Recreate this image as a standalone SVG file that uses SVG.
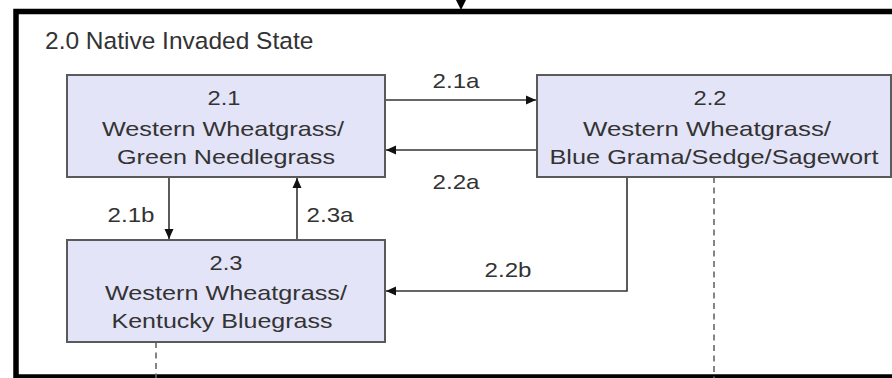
<svg xmlns="http://www.w3.org/2000/svg" width="892" height="378" viewBox="0 0 892 378">
<style>
.box{fill:#e4e4f8;stroke:#5a5a5a;stroke-width:2}
.t{font-family:"Liberation Sans",Arial,sans-serif;font-size:21px;fill:#333;text-anchor:middle}
.title{font-family:"Liberation Sans",Arial,sans-serif;font-size:24.5px;fill:#333}
.c{fill:none;stroke:#333;stroke-width:1.6}
.d{fill:none;stroke:#666;stroke-width:1.6;stroke-dasharray:6 4.5}
</style>
<defs>
<marker id="ah" markerUnits="userSpaceOnUse" markerWidth="11" markerHeight="10" refX="10" refY="5" orient="auto">
<path d="M0,0.5 L10,5 L0,9.5 Z" fill="#111"/>
</marker>
</defs>
<rect x="0" y="0" width="892" height="378" fill="#fff"/>
<g id="state">
<rect x="16" y="11.5" width="900" height="365.5" fill="none" stroke="#000" stroke-width="5.5"/>
<polygon points="455.5,-1 466.5,-1 461,10" fill="#000"/>
<text class="title" x="45" y="49">2.0 Native Invaded State</text>
</g>
<g id="connectors">
<line class="c" x1="385" y1="100" x2="536" y2="100" marker-end="url(#ah)"/>
<line class="c" x1="537" y1="150" x2="386" y2="150" marker-end="url(#ah)"/>
<line class="c" x1="169" y1="177" x2="169" y2="239" marker-end="url(#ah)"/>
<line class="c" x1="297" y1="240" x2="297" y2="178" marker-end="url(#ah)"/>
<polyline class="c" points="627,177 627,291 386,291" marker-end="url(#ah)"/>
<line class="d" x1="714" y1="177" x2="714" y2="378"/>
<line class="d" x1="156" y1="342" x2="156" y2="378"/>
<text class="t" x="456" y="88" textLength="47" lengthAdjust="spacingAndGlyphs">2.1a</text>
<text class="t" x="456" y="189" textLength="47" lengthAdjust="spacingAndGlyphs">2.2a</text>
<text class="t" x="131" y="222" textLength="47" lengthAdjust="spacingAndGlyphs">2.1b</text>
<text class="t" x="330" y="222" textLength="47" lengthAdjust="spacingAndGlyphs">2.3a</text>
<text class="t" x="508" y="277" textLength="47" lengthAdjust="spacingAndGlyphs">2.2b</text>
</g>
<g id="n21">
<rect class="box" x="67" y="75" width="318" height="102"/>
<text class="t" x="224" y="105" textLength="33" lengthAdjust="spacingAndGlyphs">2.1</text>
<text class="t" x="223" y="136" textLength="242" lengthAdjust="spacingAndGlyphs">Western Wheatgrass/</text>
<text class="t" x="226" y="164" textLength="218" lengthAdjust="spacingAndGlyphs">Green Needlegrass</text>
</g>
<g id="n22">
<rect class="box" x="537" y="75" width="354" height="102"/>
<text class="t" x="710" y="105" textLength="33" lengthAdjust="spacingAndGlyphs">2.2</text>
<text class="t" x="707" y="136" textLength="248" lengthAdjust="spacingAndGlyphs">Western Wheatgrass/</text>
<text class="t" x="714" y="164" textLength="329" lengthAdjust="spacingAndGlyphs">Blue Grama/Sedge/Sagewort</text>
</g>
<g id="n23">
<rect class="box" x="67" y="240" width="318" height="102"/>
<text class="t" x="226" y="270" textLength="33" lengthAdjust="spacingAndGlyphs">2.3</text>
<text class="t" x="226" y="300" textLength="242" lengthAdjust="spacingAndGlyphs">Western Wheatgrass/</text>
<text class="t" x="222" y="328" textLength="221" lengthAdjust="spacingAndGlyphs">Kentucky Bluegrass</text>
</g>
</svg>
